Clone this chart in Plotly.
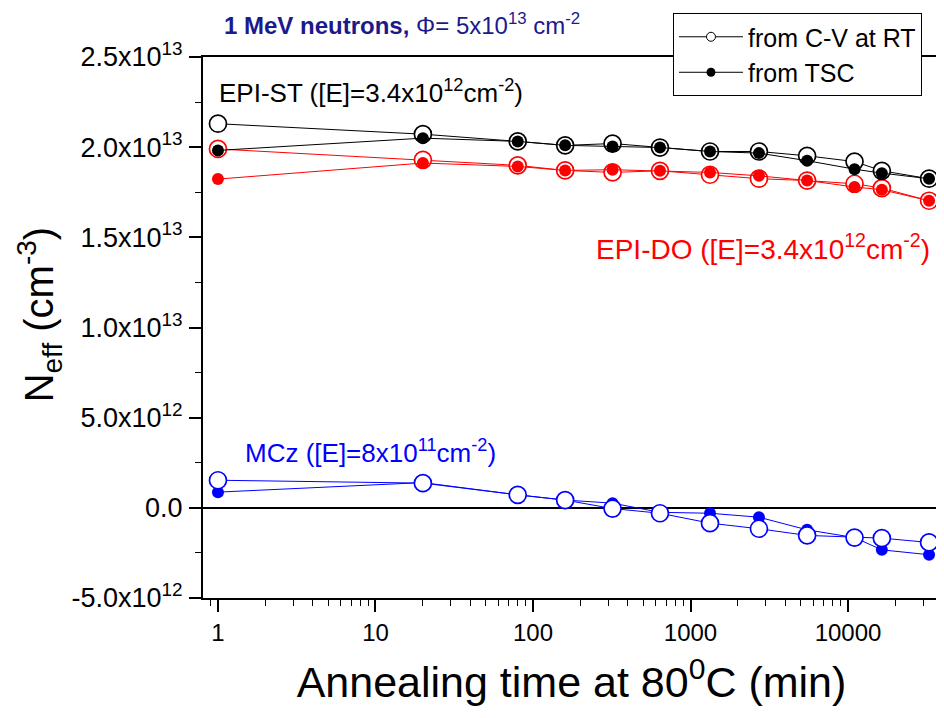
import plotly.graph_objects as go

# Annealing times (min)
t = [1, 20, 80, 160, 320, 640, 1330, 2720, 5500, 11000, 16400, 32700]

# N_eff values (cm^-3)
epi_st_cv = [2.13e13, 2.072e13, 2.032e13, 2.01e13, 2.02e13, 1.998e13, 1.976e13, 1.976e13, 1.952e13, 1.92e13, 1.869e13, 1.825e13]
epi_st_tsc = [1.982e13, 2.05e13, 2.032e13, 2.01e13, 2.004e13, 1.998e13, 1.976e13, 1.967e13, 1.925e13, 1.878e13, 1.856e13, 1.825e13]
epi_do_cv = [1.99e13, 1.93e13, 1.899e13, 1.871e13, 1.86e13, 1.869e13, 1.847e13, 1.825e13, 1.815e13, 1.797e13, 1.773e13, 1.703e13]
epi_do_tsc = [1.823e13, 1.912e13, 1.893e13, 1.871e13, 1.875e13, 1.869e13, 1.86e13, 1.841e13, 1.815e13, 1.779e13, 1.764e13, 1.703e13]
mcz_cv = [1.53e12, 1.37e12, 0.72e12, 0.43e12, -0.04e12, -0.3e12, -0.85e12, -1.16e12, -1.53e12, -1.65e12, -1.68e12, -1.92e12]
mcz_tsc = [0.87e12, 1.4e12, 0.72e12, 0.43e12, 0.26e12, -0.25e12, -0.3e12, -0.52e12, -1.22e12, -1.65e12, -2.33e12, -2.6e12]

y_tickvals = [-5e12, 0, 5e12, 1e13, 1.5e13, 2e13, 2.5e13]
y_ticktext = ["-5.0x10<sup>12</sup>", "0.0", "5.0x10<sup>12</sup>", "1.0x10<sup>13</sup>",
              "1.5x10<sup>13</sup>", "2.0x10<sup>13</sup>", "2.5x10<sup>13</sup>"]
x_tickvals = [1, 10, 100, 1000, 10000]
x_ticktext = ["1", "10", "100", "1000", "10000"]
x_minor = [m * 10 ** d for d in range(-1, 5) for m in range(2, 10) if 0.8 <= m * 10 ** d <= 38000]

FONT = "Liberation Sans, Arial, sans-serif"

fig = go.Figure()

def open_trace(y, color):
    fig.add_trace(go.Scatter(x=t, y=y, mode="lines+markers", showlegend=False,
                             line=dict(color=color, width=1),
                             marker=dict(symbol="circle", size=17, color="white",
                                         line=dict(color=color, width=1.7))))

def filled_trace(y, color):
    fig.add_trace(go.Scatter(x=t, y=y, mode="lines+markers", showlegend=False,
                             line=dict(color=color, width=1),
                             marker=dict(symbol="circle", size=12, color=color,
                                         line=dict(width=0))))

open_trace(epi_do_cv, "#ff0000")
filled_trace(epi_do_tsc, "#ff0000")
open_trace(epi_st_cv, "#000000")
filled_trace(epi_st_tsc, "#000000")
filled_trace(mcz_tsc, "#0000ff")
open_trace(mcz_cv, "#0000ff")

# legend entries
fig.add_trace(go.Scatter(x=[None], y=[None], mode="lines+markers", name="from C-V at RT",
                         line=dict(color="black", width=1),
                         marker=dict(symbol="circle", size=9, color="white", line=dict(color="black", width=1))))
fig.add_trace(go.Scatter(x=[None], y=[None], mode="lines+markers", name="from TSC",
                         line=dict(color="black", width=1),
                         marker=dict(symbol="circle", size=9, color="black")))

fig.update_layout(
    width=936, height=710,
    margin=dict(l=195, r=4, t=49, b=120, autoexpand=False),
    paper_bgcolor="white", plot_bgcolor="white",
    font=dict(family=FONT, color="black", size=20),
    showlegend=True,
    legend=dict(x=0.6377, y=1.0813, xanchor="left", yanchor="top",
                bordercolor="black", borderwidth=1, bgcolor="white",
                font=dict(size=25, family=FONT), tracegroupgap=0, itemwidth=64,
                entrywidth=280, entrywidthmode="pixels"),
    xaxis=dict(type="log", range=[-0.095, 4.584], showgrid=False, zeroline=False,
               showline=True, linecolor="black", linewidth=2, mirror=True,
               ticks="outside", ticklen=12, tickwidth=1.5, tickcolor="black",
               tickvals=x_tickvals, ticktext=x_ticktext, automargin=False,
               tickfont=dict(size=24, family=FONT),
               minor=dict(tickvals=x_minor, ticks="outside", ticklen=6, tickwidth=1, tickcolor="black", showgrid=False),
               title=dict(text="Annealing time at 80<sup>0</sup>C (min)", font=dict(size=43, family=FONT), standoff=22)),
    yaxis=dict(range=[-5e12, 2.5e13], showgrid=False, automargin=False,
               zeroline=True, zerolinecolor="black", zerolinewidth=2,
               showline=True, linecolor="black", linewidth=2, mirror=True,
               ticks="outside", ticklen=12, tickwidth=1.5, tickcolor="black",
               tickvals=y_tickvals, ticktext=y_ticktext, ticklabelstandoff=1,
               tickfont=dict(size=27, family=FONT),
               minor=dict(dtick=2.5e12, ticks="outside", ticklen=6, tickwidth=1, tickcolor="black", showgrid=False)),
)

# y-axis title (placed as rotated text)
fig.add_annotation(xref="paper", yref="paper", x=-0.222, y=0.525, xanchor="center", yanchor="middle",
                   text="N<sub>eff</sub> (cm<sup>-3</sup>)", textangle=-90, showarrow=False,
                   font=dict(size=40, color="black", family=FONT))

fig.add_annotation(xref="paper", yref="paper", x=0.0258, y=1.061, xanchor="left", yanchor="middle",
                   text="<b>1 MeV neutrons,</b> Φ= 5x10<sup>13</sup> cm<sup>-2</sup>", showarrow=False,
                   font=dict(size=24, color="#1a1a8c", family=FONT))
fig.add_annotation(xref="paper", yref="paper", x=0.019, y=0.937, xanchor="left", yanchor="middle",
                   text="EPI-ST ([E]=3.4x10<sup>12</sup>cm<sup>-2</sup>)", showarrow=False,
                   font=dict(size=26, color="black"))
fig.add_annotation(xref="paper", yref="paper", x=0.5305, y=0.649, xanchor="left", yanchor="middle",
                   text="EPI-DO ([E]=3.4x10<sup>12</sup>cm<sup>-2</sup>)", showarrow=False,
                   font=dict(size=28, color="#ff0000"))
fig.add_annotation(xref="paper", yref="paper", x=0.0543, y=0.27, xanchor="left", yanchor="middle",
                   text="MCz ([E]=8x10<sup>11</sup>cm<sup>-2</sup>)", showarrow=False,
                   font=dict(size=26, color="#0000ff"))

fig.write_html("out.html")
